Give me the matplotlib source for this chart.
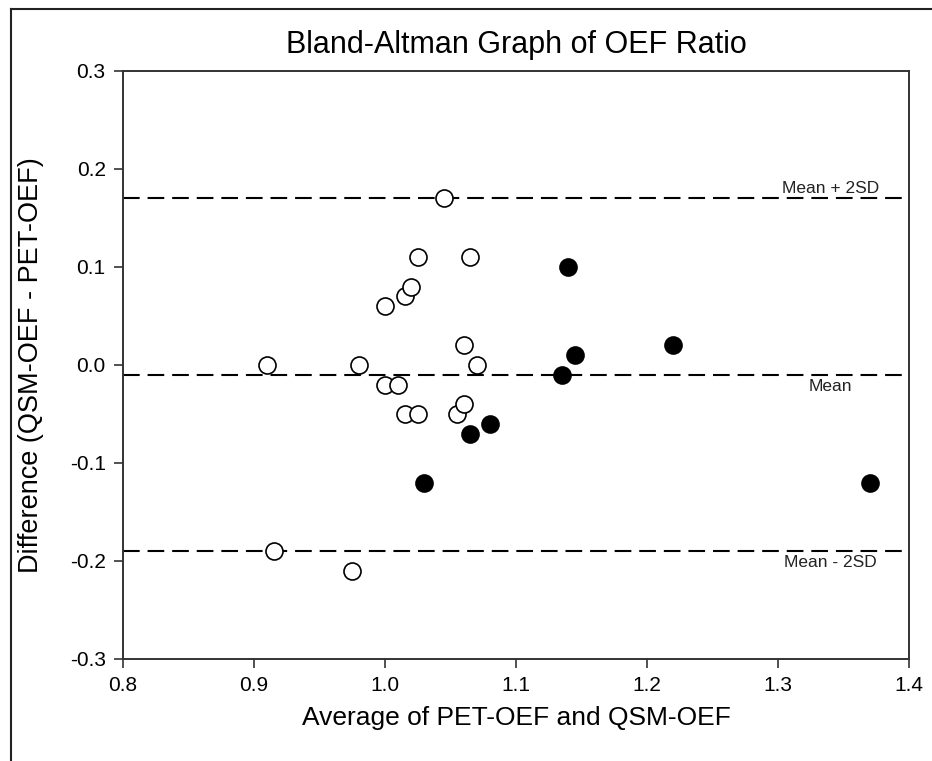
import matplotlib
matplotlib.use("Agg")
import matplotlib.pyplot as plt
from matplotlib.lines import Line2D

plt.rcParams['font.family'] = ['Liberation Sans', 'DejaVu Sans']

# Data: open circles
open_avg = [0.91, 0.915, 0.975, 0.98, 1.0, 1.0, 1.01, 1.015, 1.02, 1.025,
            1.015, 1.025, 1.045, 1.055, 1.06, 1.06, 1.065, 1.07]
open_diff = [0.0, -0.19, -0.21, 0.0, 0.06, -0.02, -0.02, 0.07, 0.08, 0.11,
             -0.05, -0.05, 0.17, -0.05, -0.04, 0.02, 0.11, 0.0]
# filled circles
filled_avg = [1.03, 1.065, 1.08, 1.135, 1.14, 1.145, 1.22, 1.37]
filled_diff = [-0.12, -0.07, -0.06, -0.01, 0.10, 0.01, 0.02, -0.12]

mean_val = -0.01
upper_val = 0.17
lower_val = -0.19
line_labels = ["Mean + 2SD", "Mean", "Mean - 2SD"]

xticks = [0.8, 0.9, 1.0, 1.1, 1.2, 1.3, 1.4]
yticks = [-0.3, -0.2, -0.1, 0.0, 0.1, 0.2, 0.3]

fig = plt.figure(figsize=(9.32, 7.61), dpi=100)
ax = fig.add_axes([123/932, 1-659/761, (909-123)/932, (659-71)/761])

dash = (0, (8, 3.8))
for v in (upper_val, mean_val, lower_val):
    ax.axhline(v, color='black', lw=1.5, linestyle=dash, zorder=1)

ax.scatter(open_avg, open_diff, s=150, facecolors='white', edgecolors='black',
           linewidths=1.2, zorder=3)
ax.scatter(filled_avg, filled_diff, s=150, facecolors='black', edgecolors='black',
           linewidths=1.2, zorder=3)

ax.annotate(line_labels[0], (1.34, upper_val), xytext=(0, 2), textcoords='offset points',
            ha='center', va='bottom', fontsize=12.5, color='#222222')
ax.annotate(line_labels[1], (1.34, mean_val), xytext=(0, -3), textcoords='offset points',
            ha='center', va='top', fontsize=12.5, color='#222222')
ax.annotate(line_labels[2], (1.34, lower_val), xytext=(0, -3), textcoords='offset points',
            ha='center', va='top', fontsize=12.5, color='#222222')

ax.set_xlim(0.8, 1.4)
ax.set_ylim(-0.3, 0.3)
ax.set_xticks(xticks)
ax.set_yticks(yticks)
ax.set_xticklabels([f"{t:.1f}" for t in xticks])
ax.set_yticklabels([f"{t:.1f}" for t in yticks])
ax.tick_params(direction='out', length=6.5, width=1.2, labelsize=15, pad=6, color='#333333')

for sp in ax.spines.values():
    sp.set_linewidth(1.4)
    sp.set_color('#333333')

ax.set_title("Bland-Altman Graph of OEF Ratio", fontsize=22, pad=13)
ax.set_xlabel("Average of PET-OEF and QSM-OEF", fontsize=19)
ax.set_ylabel("Difference (QSM-OEF - PET-OEF)", fontsize=19.5)
ax.xaxis.set_label_coords(0.5, (659 - 706) / 588)
ax.yaxis.set_label_coords((44 - 123) / 786, 0.5)

# figure frame (left and top)
bx = 11/932
ty = 1 - 9/761
fig.add_artist(Line2D([bx, bx], [0, ty], transform=fig.transFigure, color='#222222', lw=1.5))
fig.add_artist(Line2D([bx, 1], [ty, ty], transform=fig.transFigure, color='#222222', lw=1.5))

fig.savefig("out.png", dpi=100)
